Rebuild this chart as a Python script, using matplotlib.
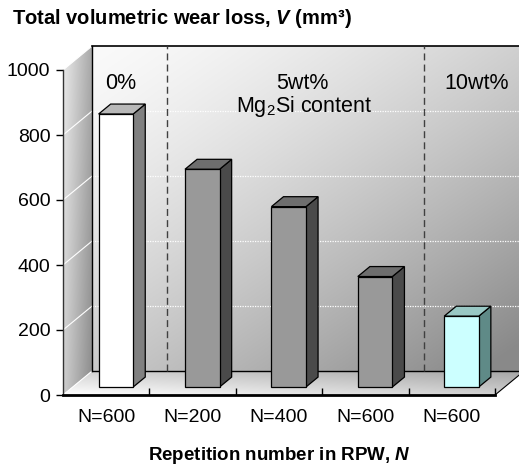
import numpy as np
import matplotlib
matplotlib.use("Agg")
import matplotlib.pyplot as plt
from matplotlib.patches import Polygon

plt.rcParams['font.family'] = ['Liberation Sans', 'DejaVu Sans']
plt.rcParams['mathtext.fontset'] = 'custom'
plt.rcParams['mathtext.rm'] = 'Liberation Sans'
plt.rcParams['mathtext.it'] = 'Liberation Sans:italic'
plt.rcParams['mathtext.bf'] = 'Liberation Sans:bold'
plt.rcParams['mathtext.bfit'] = 'Liberation Sans:bold:italic'

# data
labels = ['N=600', 'N=200', 'N=400', 'N=600', 'N=600']
wear = [840, 670, 555, 340, 218]
front_colors = ['#ffffff', '#999999', '#999999', '#999999', '#ccffff']
top_colors = ['#b8b8b8', '#6e6e6e', '#6e6e6e', '#6e6e6e', '#99c8c4']
side_colors = ['#808080', '#4a4a4a', '#4a4a4a', '#4a4a4a', '#5f8a87']
yticks = [0, 200, 400, 600, 800, 1000]
separators = [0.87, 3.84]
groups = [('0%', 0.67, 957), ('5wt%', 2.77, 957),
          ('Mg$_2$Si content', 2.79, 888), ('10wt%', 4.79, 957)]

# oblique depth of the 3d box, in data units
DX, DY = 0.336, 73.6
d0, d1 = 1 / 3, 0.75
bw = 0.4

fig = plt.figure(figsize=(5.19, 4.66), dpi=100)
ax = fig.add_axes([63 / 519, 71 / 466, 432 / 519, 325 / 466])
ax.set_xlim(0, 5)
ax.set_ylim(0, 1000)
ax.patch.set_visible(False)


def gradient_fill(poly, func, lo, hi):
    patch = Polygon(poly, closed=True, facecolor='none', edgecolor='none', clip_on=False)
    ax.add_patch(patch)
    xs = [p[0] for p in poly]
    ys = [p[1] for p in poly]
    ext = (min(xs), max(xs), min(ys), max(ys))
    u, v = np.meshgrid(np.linspace(0, 1, 200), np.linspace(1, 0, 200))
    t = func(u, v)
    img = lo + (hi - lo) * t
    rgb = np.dstack([img, img, img])
    im = ax.imshow(rgb, extent=ext, aspect='auto', zorder=0, interpolation='bilinear')
    im.set_clip_box(fig.bbox)
    im.set_clip_path(patch)
    return patch


ymax = yticks[-1]
# back wall
back = [(DX, DY), (5 + DX, DY), (5 + DX, ymax + DY), (DX, ymax + DY)]
gradient_fill(back, lambda u, v: np.clip(0.5 * u + 0.55 * (1 - v), 0, 1) ** 1.4, 0.98, 0.54)
# left side wall
side = [(0, 0), (DX, DY), (DX, ymax + DY), (0, ymax)]
gradient_fill(side, lambda u, v: np.clip(0.7 * u + 0.3 * (1 - v), 0, 1), 0.92, 0.54)
# floor
floor = [(0, 0), (5, 0), (5 + DX, DY), (DX, DY)]
gradient_fill(floor, lambda u, v: np.clip(0.55 * u + 0.5 * v, 0, 1), 1.0, 0.66)
ax.set_xlim(0, 5)
ax.set_ylim(0, 1000)

# gridlines on the walls
for yv in yticks:
    ax.plot([0, DX], [yv, yv + DY], color='white', lw=0.8, zorder=1, clip_on=False)
    if 0 < yv < ymax:
        ax.plot([DX, 5 + DX], [yv + DY, yv + DY], color='white', lw=0.9,
                ls=(0, (1, 1)), zorder=1, clip_on=False)

# wall edges
ax.plot([DX, 5 + DX], [ymax + DY, ymax + DY], color='black', lw=1.2, zorder=2, clip_on=False)
ax.plot([DX, DX], [DY, ymax + DY], color='black', lw=1.0, zorder=2, clip_on=False)
ax.plot([DX, 5 + DX], [DY, DY], color='black', lw=1.0, zorder=2, clip_on=False)
ax.plot([5, 5 + DX], [0, DY], color='black', lw=0.8, zorder=2, clip_on=False)

# separators on the back wall
for s in separators:
    ax.plot([s + DX, s + DX], [DY, ymax + DY], color='#404040', lw=1.0,
            ls=(0, (5, 3)), zorder=2, clip_on=False)

# bars
for i, (v, fc, tc, sc) in enumerate(zip(wear, front_colors, top_colors, side_colors)):
    x0 = i + 0.5 - bw / 2 + d0 * DX
    x1 = x0 + bw
    yb = d0 * DY
    yt = v + d0 * DY
    ox, oy = (d1 - d0) * DX, (d1 - d0) * DY
    ax.add_patch(Polygon([(x1, yb), (x1 + ox, yb + oy), (x1 + ox, yt + oy), (x1, yt)],
                         facecolor=sc, edgecolor='black', lw=0.9, zorder=3, clip_on=False))
    ax.add_patch(Polygon([(x0, yt), (x1, yt), (x1 + ox, yt + oy), (x0 + ox, yt + oy)],
                         facecolor=tc, edgecolor='black', lw=0.9, zorder=3, clip_on=False))
    ax.add_patch(Polygon([(x0, yb), (x1, yb), (x1, yt), (x0, yt)],
                         facecolor=fc, edgecolor='black', lw=0.9, zorder=4, clip_on=False))

for txt, gx, gy in groups:
    ax.text(gx, gy, txt, ha='center', va='center', fontsize=15.5, zorder=5)

# axes
for sp in ['top', 'right']:
    ax.spines[sp].set_visible(False)
ax.spines['left'].set_color('#333333')
ax.spines['left'].set_linewidth(1.0)
ax.spines['bottom'].set_linewidth(2.0)
ax.spines['bottom'].set_zorder(6)
ax.set_yticks(yticks)
ax.set_yticklabels([str(t) for t in yticks], fontsize=14)
ax.tick_params(axis='y', direction='out', length=5, width=1, pad=4)
ax.set_xticks(np.arange(len(labels)) + 0.5)
ax.set_xticklabels(labels, fontsize=14)
ax.tick_params(axis='x', length=0, pad=10)
ax.set_xticks(np.arange(1, len(labels) + 1), minor=True)
ax.tick_params(axis='x', which='minor', direction='in', length=5, width=1)

ax.set_xlabel('Repetition number in RPW, $\\mathbfit{N}$', fontsize=13.5,
              fontweight='bold', labelpad=14)
fig.text(12 / 519, 1 - 19 / 466,
         'Total volumetric wear loss, $\\mathbfit{V}$ (mm³)',
         fontsize=14.5, fontweight='bold', va='center', ha='left')

fig.savefig('out.png', dpi=100)
